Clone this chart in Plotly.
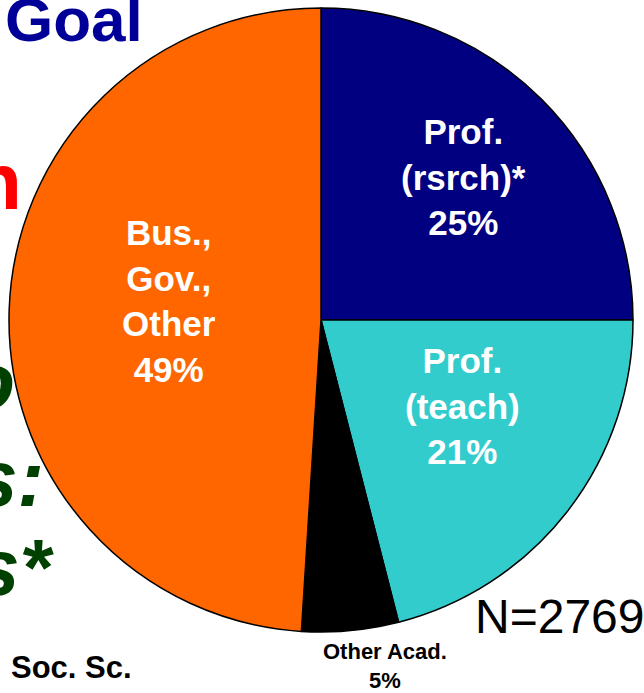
import plotly.graph_objects as go

W, H = 644, 693

# slices, clockwise from 12 o'clock
labels = ["Prof. (rsrch)*", "Prof. (teach)", "Other Acad.", "Bus., Gov., Other"]
label_lines = ["Prof.<br>(rsrch)*", "Prof.<br>(teach)", "Other Acad.", "Bus.,<br>Gov.,<br>Other"]
pct = [25, 21, 5, 49]
colors = ["#000080", "#33CCCC", "#000000", "#FF6600"]
n_total = 2769


def px(x, y):
    # window pixel -> paper coords
    return x / W, 1 - y / H


x0, y1 = px(9, 8)
x1, y0 = px(633, 632)

fig = go.Figure(go.Pie(
    labels=labels,
    values=pct,
    sort=False,
    direction="clockwise",
    rotation=0,
    textinfo="none",
    hoverinfo="label+percent",
    marker=dict(colors=colors, line=dict(color="black", width=1.5)),
    domain=dict(x=[x0, x1], y=[y0, y1]),
    showlegend=False,
))

ann = []


def add(text, x, y, size, color, bold=True, family="Arial, Liberation Sans", xanchor="center"):
    ax, ay = px(x, y)
    t = "<b>" + text + "</b>" if bold else text
    ann.append(dict(text=t, x=ax, y=ay, xref="paper", yref="paper", showarrow=False,
                    xanchor=xanchor, yanchor="middle", align="center",
                    font=dict(size=size, color=color, family=family)))


# slice labels (positions)
lab_pos = [(463, 177, 35, "white"), (462, 406, 35, "white"),
           (385, 666, 22, "black"), (169, 301, 35, "white")]
for i, (x, y, s, c) in enumerate(lab_pos):
    add(label_lines[i] + "<br>" + str(pct[i]) + "%", x, y, s, c)

add("N=" + str(n_total), 559, 616, 48, "black", bold=False)
add("Soc. Sc.", 71, 667, 31, "black")

# slide text cut off at the left edge
add("Goal", 145, 19, 62, "#000099", xanchor="right")
add("n", 24, 181, 80, "#FF0000", xanchor="right")
add("<i>o</i>", 17, 382, 80, "#004000", xanchor="right")
add("<i>s:</i>", 46, 479, 80, "#004000", xanchor="right")
add("<i>s*</i>", 56, 567, 80, "#004000", xanchor="right")

fig.update_layout(
    width=W, height=H,
    margin=dict(l=0, r=0, t=0, b=0),
    paper_bgcolor="white",
    plot_bgcolor="white",
    annotations=ann,
)

# drop the default 8px page margin so the figure fills the window
fig.write_html("out.html", config={"displayModeBar": False},
               post_script="document.body.style.margin='0';")
